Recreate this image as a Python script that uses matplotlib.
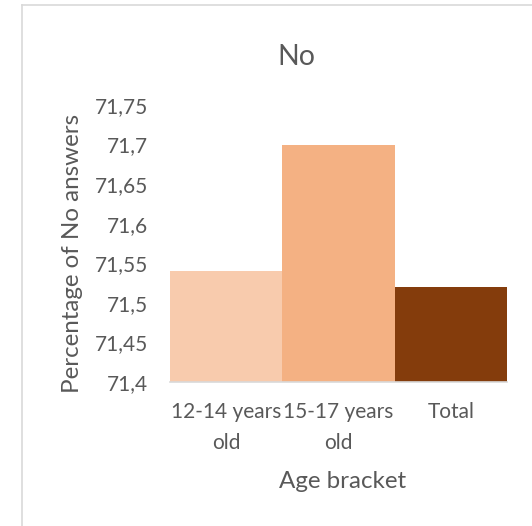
import matplotlib
matplotlib.use("Agg")
import matplotlib.pyplot as plt
from matplotlib.lines import Line2D
from matplotlib.ticker import FuncFormatter

plt.rcParams['font.family'] = ['Lato', 'DejaVu Sans']

# data
categories = ["12-14 years\nold", "15-17 years\nold", "Total"]
values = [71.54, 71.70, 71.52]
colors = ["#F8CBAD", "#F4B183", "#843C0C"]
yticks = [71.4, 71.45, 71.5, 71.55, 71.6, 71.65, 71.7, 71.75]

W, H = 532, 526
grey = "#595959"
fig = plt.figure(figsize=(W / 100, H / 100), dpi=100)
# plot area in pixels: x 170..507, y 105..382
ax = fig.add_axes([170 / W, 1 - 382 / H, (507 - 170) / W, (382 - 105) / H])

x = list(range(len(categories)))
ax.bar(x, [v - 71.4 for v in values], bottom=71.4, width=1.0, color=colors)
ax.set_xlim(-0.5, 2.5)
ax.set_ylim(71.4, 71.75)
ax.set_yticks(yticks)
ax.yaxis.set_major_formatter(FuncFormatter(lambda v, p: f"{v:g}".replace(".", ",")))
ax.set_xticks(x)
ax.set_xticklabels(categories, linespacing=1.7)

for s in ["top", "right", "left"]:
    ax.spines[s].set_visible(False)
ax.spines["bottom"].set_color("#D9D9D9")
ax.spines["bottom"].set_linewidth(1.2)
ax.tick_params(axis="both", length=0, labelsize=15, labelcolor=grey)
ax.tick_params(axis="y", pad=16)
ax.tick_params(axis="x", pad=14.5)

fig.text(73 / W, 1 - 253 / H, "Percentage of No answers", rotation=90,
         fontsize=17.4, color=grey, ha="center", va="center")
fig.text(343 / W, 1 - 482 / H, "Age bracket",
         fontsize=17.4, color=grey, ha="center", va="center")
fig.text(296 / W, 1 - 57 / H, "No", fontsize=20.5, color=grey, ha="center", va="center")

# chart border (left and top edges visible)
fig.add_artist(Line2D([22 / W, 22 / W], [0, 1 - 5 / H], color="#D9D9D9", lw=1.2))
fig.add_artist(Line2D([22 / W, 1], [1 - 5 / H, 1 - 5 / H], color="#D9D9D9", lw=1.2))

fig.savefig("out.png", dpi=100)
